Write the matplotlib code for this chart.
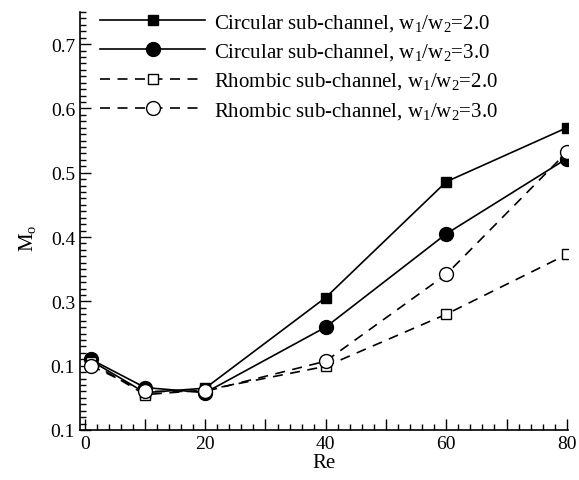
import matplotlib
matplotlib.use("Agg")
import matplotlib.pyplot as plt
from matplotlib.ticker import MultipleLocator, FixedLocator, FixedFormatter

plt.rcParams["font.family"] = "Liberation Serif"
plt.rcParams["mathtext.fontset"] = "custom"
plt.rcParams["mathtext.rm"] = "Liberation Serif"
plt.rcParams["mathtext.it"] = "Liberation Serif:italic"

re_values = [1, 10, 20, 40, 60, 80]
circular_w2 = [0.208, 0.158, 0.165, 0.306, 0.486, 0.570]
circular_w3 = [0.210, 0.166, 0.158, 0.260, 0.405, 0.522]
rhombic_w2 = [0.205, 0.155, 0.162, 0.199, 0.280, 0.373]
rhombic_w3 = [0.200, 0.160, 0.160, 0.207, 0.342, 0.532]

series_labels = [
    r"Circular sub-channel, w$_{\rm 1}$/w$_{\rm 2}$=2.0",
    r"Circular sub-channel, w$_{\rm 1}$/w$_{\rm 2}$=3.0",
    r"Rhombic sub-channel, w$_{\rm 1}$/w$_{\rm 2}$=2.0",
    r"Rhombic sub-channel, w$_{\rm 1}$/w$_{\rm 2}$=3.0",
]

# tick labels copied as printed in the source figure
y_tick_values = [0.1, 0.2, 0.3, 0.4, 0.5, 0.6, 0.7]
y_tick_labels = ["0.1", "0.1", "0.3", "0.4", "0.5", "0.6", "0.7"]
x_tick_values = [0, 10, 20, 30, 40, 50, 60, 70, 80]
x_tick_labels = ["0", "", "20", "", "40", "", "60", "", "80"]

fig = plt.figure(figsize=(5.79, 4.81), dpi=100)
ax = fig.add_axes([0.138, 0.104, 0.843, 0.869])

dash = (0, (6, 4.5))
ax.plot(re_values, circular_w2, color="black", lw=1.2, marker="s", ms=7.5,
        mfc="black", mec="black", label=series_labels[0])
ax.plot(re_values, circular_w3, color="black", lw=1.2, marker="o", ms=10,
        mfc="black", mec="black", label=series_labels[1])
ax.plot(re_values, rhombic_w2, color="black", lw=1.2, ls=dash, marker="s", ms=7,
        mfc="white", mec="black", label=series_labels[2])
ax.plot(re_values, rhombic_w3, color="black", lw=1.2, ls=dash, marker="o", ms=10,
        mfc="white", mec="black", label=series_labels[3])

ax.set_xlim(-0.8, 80.2)
ax.set_ylim(0.1, 0.75)

ax.xaxis.set_major_locator(FixedLocator(x_tick_values))
ax.xaxis.set_major_formatter(FixedFormatter(x_tick_labels))
ax.xaxis.set_minor_locator(MultipleLocator(2))

ax.yaxis.set_major_locator(FixedLocator(y_tick_values))
ax.yaxis.set_major_formatter(FixedFormatter(y_tick_labels))
ax.yaxis.set_minor_locator(MultipleLocator(0.01))

ax.tick_params(which="both", direction="in", top=False, right=False,
               labelsize=14, width=1.0)
ax.tick_params(which="major", length=8)
ax.tick_params(which="minor", length=4)

ax.spines["top"].set_visible(False)
ax.spines["right"].set_visible(False)
ax.spines["left"].set_linewidth(1.2)
ax.spines["bottom"].set_linewidth(1.2)

ax.set_xlabel("Re", fontsize=15, labelpad=1)
ax.set_ylabel(r"M$_{\rm o}$", fontsize=15)
ax.yaxis.set_label_coords(-0.085, 0.46)

ax.legend(loc="upper left", bbox_to_anchor=(0.041, 1.0), frameon=False,
          fontsize=15, handlelength=5.05, handletextpad=0.45, labelspacing=0.4,
          borderpad=0, borderaxespad=0, numpoints=1)

fig.savefig("out.png", dpi=100)
